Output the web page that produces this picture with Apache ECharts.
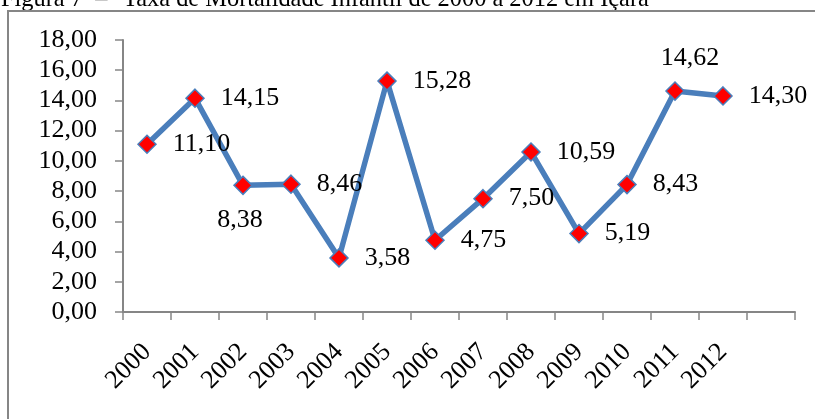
<!DOCTYPE html>
<html>
<head>
<meta charset="utf-8">
<script src="https://cdn.jsdelivr.net/npm/echarts@6/dist/echarts.min.js"></script>
<style>
  html, body { margin: 0; padding: 0; background: #fff; }
  #chart { width: 815px; height: 419px; }
</style>
</head>
<body>
<div id="chart"></div>
<script>
// categories (the last slot is empty, as in the original sheet)
var years = ['2000', '2001', '2002', '2003', '2004', '2005', '2006',
             '2007', '2008', '2009', '2010', '2011', '2012', ''];
// taxa de mortalidade infantil
var taxa = [11.10, 14.15, 8.38, 8.46, 3.58, 15.28, 4.75,
            7.50, 10.59, 5.19, 8.43, 14.62, 14.30];

var serif = '"Liberation Serif", "Times New Roman", serif';
var axisGray = '#868686';
var lineBlue = '#4a7ebb';

function fmt(v) {
  return v.toFixed(2).replace('.', ',');
}

// where each value label sits around its marker
function labelFor(i) {
  if (i === 2) return { position: 'bottom', distance: 12, offset: [-3, 0] };
  if (i === 11) return { position: 'top', distance: 10, offset: [15, 0] };
  return { position: 'right', distance: 16 };
}

var chart = echarts.init(document.getElementById('chart'));

var option = {
  animation: false,
  graphic: [
    {
      // caption of the figure, cut at the top in the original scan
      type: 'text',
      x: 1,
      y: 0,
      style: {
        text: 'Figura 7  –',
        font: '24.4px ' + serif,
        fill: '#000',
        textVerticalAlign: 'middle'
      }
    },
    {
      type: 'text',
      x: 123,
      y: 0,
      style: {
        text: 'Taxa de Mortalidade Infantil de 2000 a 2012 em Içara',
        font: '24.4px ' + serif,
        fill: '#000',
        textVerticalAlign: 'middle'
      }
    },
    {
      type: 'rect',
      shape: { x: 8, y: 11, width: 840, height: 440 },
      style: { fill: 'none', stroke: axisGray, lineWidth: 2 }
    }
  ],
  grid: { left: 123, right: 20, top: 40, bottom: 107 },
  xAxis: {
    type: 'category',
    data: years,
    boundaryGap: true,
    axisLine: { lineStyle: { color: axisGray, width: 2 } },
    axisTick: { show: true, interval: 0, length: 8, lineStyle: { color: axisGray, width: 1.5 } },
    axisLabel: {
      interval: 0,
      rotate: 45,
      margin: 36,
      fontFamily: serif,
      fontSize: 26,
      color: '#000'
    }
  },
  yAxis: {
    type: 'value',
    min: 0,
    max: 18,
    interval: 2,
    axisLine: { show: true, lineStyle: { color: axisGray, width: 2 } },
    axisTick: { show: true, length: 8, lineStyle: { color: axisGray, width: 1.5 } },
    splitLine: { show: false },
    axisLabel: {
      margin: 26,
      fontFamily: serif,
      fontSize: 26,
      color: '#000',
      formatter: fmt
    }
  },
  series: [{
    type: 'line',
    data: taxa.map(function (v, i) {
      var l = labelFor(i);
      return {
        value: v,
        label: {
          show: true,
          position: l.position,
          distance: l.distance,
          offset: l.offset || [0, 0]
        }
      };
    }),
    symbol: 'diamond',
    symbolSize: 18,
    lineStyle: { color: lineBlue, width: 5.5 },
    itemStyle: { color: '#ff0000', borderColor: lineBlue, borderWidth: 1.5 },
    label: {
      fontFamily: serif,
      fontSize: 26,
      color: '#000',
      formatter: function (p) { return fmt(p.value); }
    },
    z: 3
  }]
};

chart.setOption(option);
</script>
</body>
</html>
